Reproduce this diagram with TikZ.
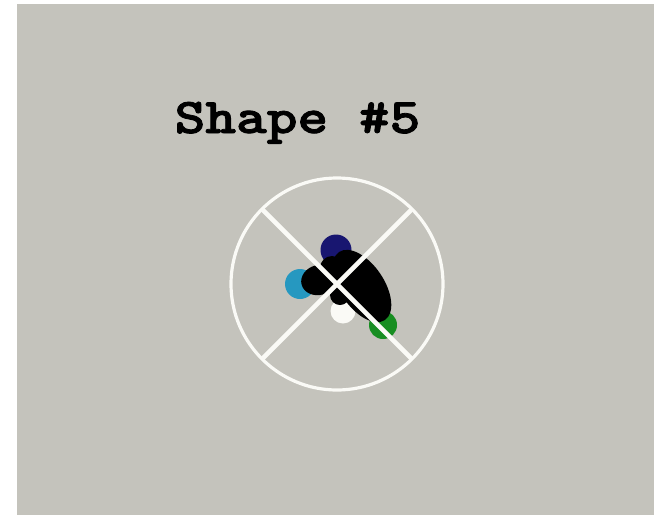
\documentclass[tikz,border=0pt]{standalone}
\usepackage{fontspec}
\newfontfamily\titlefont[FakeBold=1.6]{lmmonolt10-bold.otf}
\usepackage{tikz}
\usetikzlibrary{positioning}
\usepackage{xcolor}
\definecolor{panelgrey}{RGB}{196,195,188}
\definecolor{chalk}{RGB}{250,250,246}
\definecolor{navydot}{RGB}{24,22,112}
\definecolor{tealdot}{RGB}{38,152,192}
\definecolor{greendot}{RGB}{24,142,34}

\begin{document}
\begin{tikzpicture}[x=1pt,y=-1pt,
  ring/.style={draw=chalk,line width=3.2pt},
  bar/.style={draw=chalk,line width=4.6pt}]
 % panel
 \fill[white] (0,0) rectangle (654,515);
 \fill[panelgrey] (17,4) rectangle (654,515);
 \node[anchor=base,inner sep=0pt,xscale=1.17,transform shape] (title) at (297.5,133)
   {\titlefont\fontsize{50}{60}\selectfont Shape \#5};
 % coloured dots
 \coordinate (ctr) at (337,284);
 \fill[navydot] (336,250) circle (15.5);
 \fill[tealdot] (300,284) circle (15);
 \fill[chalk] (343,311) circle (12.5);
 \fill[greendot] (383,325) circle (14);
 % black blob
 \fill[black,rotate around={-56:(362,286)}] (362,286) ellipse (41 and 22);
 \fill[black,rotate around={15:(319,280)}] (319,280) ellipse (18 and 15);
 \fill[black] (340,295) circle (10);
 \fill[black] (332,268) circle (12);
 % target
 \draw[ring] (ctr) circle (106);
 \draw[bar] (ctr) ++(135:105) -- ++(-45:210);
 \draw[bar] (ctr) ++(45:105) -- ++(-135:210);
\end{tikzpicture}
\end{document}
